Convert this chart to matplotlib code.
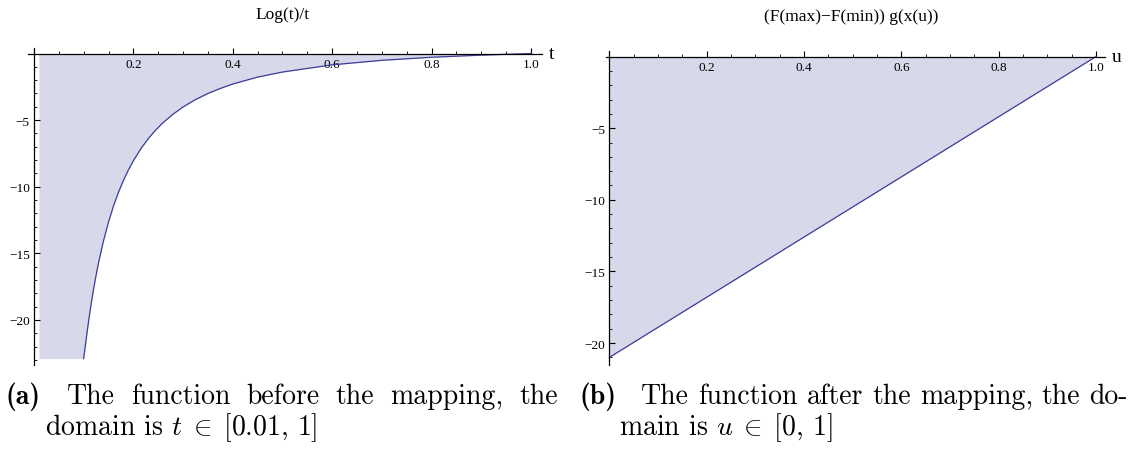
import matplotlib.pyplot as plt
import numpy as np
from matplotlib.ticker import MultipleLocator, FixedLocator

# left panel: Log(t)/t
t_vals = [0.10, 0.105, 0.11, 0.115, 0.12, 0.125, 0.13, 0.14, 0.15, 0.16, 0.17,
          0.18, 0.19, 0.20, 0.215, 0.23, 0.245, 0.26, 0.28, 0.30, 0.325, 0.35,
          0.375, 0.40, 0.45, 0.50, 0.60, 0.70, 0.80, 0.90, 1.00]
logt_vals = [-23.03, -21.46, -20.07, -18.81, -17.67, -16.64, -15.69, -14.04,
             -12.65, -11.45, -10.42, -9.53, -8.74, -8.05, -7.15, -6.39, -5.74,
             -5.18, -4.55, -4.01, -3.46, -3.00, -2.62, -2.29, -1.77, -1.39,
             -0.85, -0.51, -0.28, -0.12, 0.0]
t_start = 0.01
left_floor = -22.9

# right panel: mapped function, a straight line
u_vals = [0.0, 1.0]
mapped_vals = [-21.0, 0.0]

x_ticks = [0.2, 0.4, 0.6, 0.8, 1.0]
x_ticklabels = ['0.2', '0.4', '0.6', '0.8', '1.0']
y_ticks = [-5, -10, -15, -20]
y_ticklabels = ['\u22125', '\u221210', '\u221215', '\u221220']

FILL = '#d8d8eb'
LINE = '#3d3d99'
W, H = 1130, 452

plt.rcParams['mathtext.fontset'] = 'cm'

fig = plt.figure(figsize=(W / 100, H / 100), dpi=100)


def px_axes(x0, x1, y_top, y_bot):
    return fig.add_axes([x0 / W, 1 - y_bot / H, (x1 - x0) / W, (y_bot - y_top) / H])


def style(ax, xlim, ylim, var):
    ax.set_xlim(*xlim)
    ax.set_ylim(*ylim)
    for s in ['top', 'right']:
        ax.spines[s].set_visible(False)
    ax.spines['bottom'].set_position(('data', 0))
    ax.spines['left'].set_position(('data', 0))
    for s in ['bottom', 'left']:
        ax.spines[s].set_linewidth(0.9)
    ax.xaxis.set_major_locator(FixedLocator(x_ticks))
    ax.set_xticklabels(x_ticklabels)
    ax.xaxis.set_minor_locator(MultipleLocator(0.05))
    ax.yaxis.set_major_locator(FixedLocator(y_ticks))
    ax.set_yticklabels(y_ticklabels)
    ax.yaxis.set_minor_locator(MultipleLocator(1))
    ax.tick_params(which='major', direction='in', length=4.5, width=0.8,
                   labelsize=9.5, pad=3)
    ax.tick_params(which='minor', direction='in', length=2.5, width=0.6)
    for lab in ax.get_xticklabels() + ax.get_yticklabels():
        lab.set_family('Liberation Serif')
    ax.text(xlim[1] + 0.015, 0, var, family='Liberation Serif', fontsize=14,
            va='center', ha='left', transform=ax.transData)
    ax.patch.set_alpha(0)


# left panel
ax1 = px_axes(28, 541.7, 49.2, 366.2)
tl = np.array([t_start] + t_vals)
yl = np.maximum(np.array([left_floor] + logt_vals), left_floor)
ax1.fill_between(tl, yl, 0, color=FILL, lw=0)
ax1.plot(t_vals, np.maximum(logt_vals, left_floor), color=LINE, lw=0.9)
style(ax1, (-0.012, 1.0215), (-23.4, 0.4), 't')

# right panel
ax2 = px_axes(606.4, 1104.8, 51.8, 365.6)
ax2.fill_between(u_vals, mapped_vals, 0, color=FILL, lw=0)
ax2.plot(u_vals, mapped_vals, color=LINE, lw=0.9)
style(ax2, (-0.006, 1.018), (-21.5, 0.4), 'u')

# titles
fig.text(283 / W, 1 - 15 / H, 'Log(t)/t', family='Liberation Serif',
         fontsize=12.5, ha='center', va='center')
fig.text(851 / W, 1 - 17 / H, '(F(max)\u2212F(min)) g(x(u))',
         family='Liberation Serif', fontsize=12.5, ha='center', va='center')

# captions (LaTeX-like, first line justified)
CAP = 20
renderer = fig.canvas.get_renderer()


def justified(words, x0, x1, y):
    items = [fig.text(0, 1 - y / H, w, family='cmr10', fontsize=CAP,
                      va='baseline') for w in words]
    widths = [t.get_window_extent(renderer).width for t in items]
    gap = (x1 - x0 - sum(widths)) / (len(words) - 1)
    x = x0
    for t, w in zip(items, widths):
        t.set_x(x / W)
        x += w + gap


fig.text(6 / W, 1 - 404 / H, '(a)', family='cmb10', fontsize=CAP, va='baseline')
justified('The function before the mapping, the'.split(), 67, 558, 404)
fig.text(45 / W, 1 - 435 / H, r'domain is $t\;\in\;[0.01,\,1]$',
         family='cmr10', fontsize=CAP, va='baseline')

fig.text(580 / W, 1 - 404 / H, '(b)', family='cmb10', fontsize=CAP, va='baseline')
justified('The function after the mapping, the do-'.split(), 641, 1128, 404)
fig.text(619 / W, 1 - 435 / H, r'main is $u\;\in\;[0,\,1]$',
         family='cmr10', fontsize=CAP, va='baseline')

fig.savefig('out.png', dpi=100)
